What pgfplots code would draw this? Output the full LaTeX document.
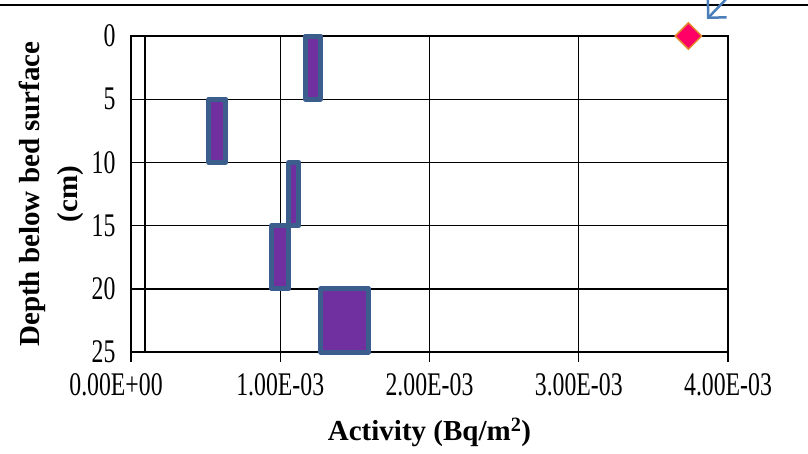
\documentclass[border=0pt]{standalone}
\usepackage{fontspec}
\setmainfont{Liberation Serif}
\usepackage{pgfplots}
\pgfplotsset{compat=1.18}
\usetikzlibrary{arrows.meta}
\definecolor{barfill}{HTML}{7030A0}
\definecolor{barline}{HTML}{3B5E8C}
\definecolor{diafill}{HTML}{FF0066}
\definecolor{diaedge}{HTML}{E0882A}
\definecolor{arrowblue}{HTML}{4A7EBB}
\newcommand\tl[1]{\scalebox{0.72}[1]{\fontsize{33}{36}\selectfont #1}}
\begin{document}
\begin{tikzpicture}[x=1pt,y=1pt]
\path[use as bounding box] (0,0) rectangle (808,453);
\draw[line width=2.5pt,black] (0,448) -- (808,448);
\draw[arrowblue,line width=2.5pt,-{Straight Barb[length=13pt,width=26pt]}] (730,458) -- (707,434);
\begin{axis}[
  at={(131pt,101pt)}, anchor=south west,
  scale only axis, width=597pt, height=316pt,
  xmin=0, xmax=0.004, ymin=0, ymax=25,
  y dir=reverse,
  scaled x ticks=false,
  xtick={0,0.001,0.002,0.003,0.004},
  xticklabels={\hspace*{-30pt}\tl{0.00E+00},\tl{1.00E-03},\tl{2.00E-03},\tl{3.00E-03},\tl{4.00E-03}},
  ytick={0,5,10,15,20,25},
  yticklabel={\tl{\pgfmathprintnumber[assume math mode=true]{\tick}}},
  grid=major,
  major grid style={black, line width=1.4pt},
  axis line style={black, line width=1.4pt},
  xtick pos=bottom, ytick pos=left,
  x tick style={black, line width=1.4pt},
  tick align=outside,
  major tick length=10pt,
  y tick style={draw=none},
  yticklabel style={xshift=-2pt},
  xticklabel style={yshift=-8pt},
  extra x ticks={0.000094},
  extra x tick labels={},
  extra tick style={grid=major, major tick length=0pt, major grid style={black,line width=1.4pt}},
  xlabel={\textbf{Activity (Bq/m\textsuperscript{2})}},
  ylabel={\textbf{Depth below bed surface}\\\textbf{(cm)}},
  label style={font=\fontsize{29}{38}\selectfont},
  xlabel style={yshift=-5pt},
  ylabel style={align=center, yshift=1pt},
  clip=false,
]
\pgfplotsset{bar/.style={fill=barfill, draw=barline, line width=5pt, line join=round}}
\addplot[bar] coordinates {(0.001169,0) (0.001269,0) (0.001269,5) (0.001169,5)} -- cycle;
\addplot[bar] coordinates {(0.000522,5) (0.000636,5) (0.000636,10) (0.000522,10)} -- cycle;
\addplot[bar] coordinates {(0.001058,10) (0.001125,10) (0.001125,15) (0.001058,15)} -- cycle;
\addplot[bar] coordinates {(0.000944,15) (0.001058,15) (0.001058,20) (0.000944,20)} -- cycle;
\addplot[bar] coordinates {(0.001273,20) (0.001594,20) (0.001594,25) (0.001273,25)} -- cycle;
\addplot[only marks, mark=square*, mark size=9.3pt, mark options={rotate=45, fill=diafill, draw=diaedge, line width=1.5pt}] coordinates {(0.003735,0)};
\end{axis}
\end{tikzpicture}
\end{document}
